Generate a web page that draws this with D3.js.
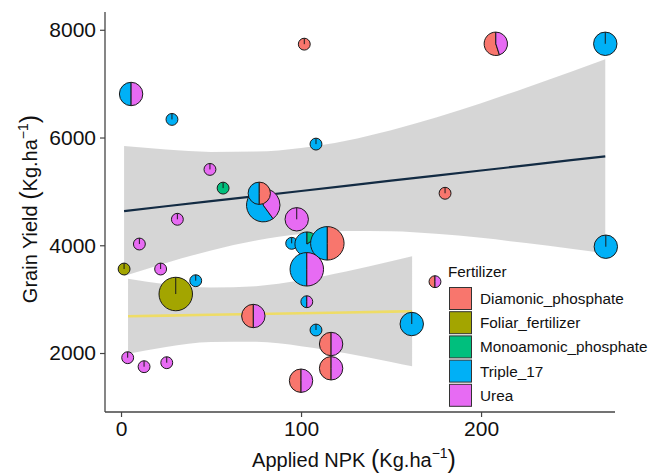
<!DOCTYPE html>
<html>
<head>
<meta charset="utf-8">
<script src="https://cdn.jsdelivr.net/npm/d3@7"></script>
<style>
  body { margin: 0; background: #fff; }
  text { font-family: "Liberation Sans", Arial, sans-serif; }
</style>
</head>
<body>
<svg id="chart" width="650" height="474"></svg>
<script>
// fertilizer categories and ggplot hue colours
const fertilizers = ["Diamonic_phosphate", "Foliar_fertilizer", "Monoamonic_phosphate", "Triple_17", "Urea"];
const fertColors = ["#F8766D", "#A3A500", "#00BF7D", "#00B0F6", "#E76BF3"];

// pies: applied NPK, grain yield, pie radius (x units), composition
const npk = [5.6, 28.3, 101.8, 208.2, 269.0, 108.3, 49.4, 56.7, 79.0, 76.8,
             97.6, 94.8, 103.3, 114.6, 103.2, 103.2, 73.5, 108.3, 116.7, 116.7,
             100.0, 161.5, 180.0, 174.4, 269.3, 10.2, 1.7, 22.0, 30.4, 41.5,
             3.7, 12.8, 25.4, 31.3];
const grainYield = [6808, 6336, 7733, 7740, 7740, 5878, 5408, 5061, 4745, 4965,
                    4482, 4036, 4023, 4036, 3554, 2952, 2687, 2427, 2167, 1716,
                    1486, 2538, 4965, 3324, 3973, 4023, 3559, 3559, 3095, 3342,
                    1913, 1746, 1820, 4482];
const pieRadius = [6.5, 3.3, 3.3, 6.5, 6.5, 3.3, 3.3, 3.3, 9.3, 6.2,
                   6.5, 3.3, 6.7, 9.3, 9.3, 3.3, 6.5, 3.3, 6.5, 6.5,
                   6.5, 6.5, 3.3, 3.3, 6.5, 3.3, 3.3, 3.3, 9.3, 3.3,
                   3.3, 3.3, 3.3, 3.3];
const pieMix = [
  [["Triple_17", 0.5], ["Urea", 0.5]],
  [["Triple_17", 1]],
  [["Diamonic_phosphate", 1]],
  [["Diamonic_phosphate", 0.55], ["Urea", 0.45]],
  [["Triple_17", 1]],
  [["Triple_17", 1]],
  [["Urea", 1]],
  [["Monoamonic_phosphate", 1]],
  [["Triple_17", 0.6], ["Urea", 0.4]],
  [["Triple_17", 0.5], ["Diamonic_phosphate", 0.5]],
  [["Urea", 1]],
  [["Triple_17", 1]],
  [["Triple_17", 0.85], ["Monoamonic_phosphate", 0.15]],
  [["Triple_17", 0.5], ["Diamonic_phosphate", 0.5]],
  [["Triple_17", 0.5], ["Urea", 0.5]],
  [["Triple_17", 0.5], ["Urea", 0.5]],
  [["Diamonic_phosphate", 0.5], ["Urea", 0.5]],
  [["Triple_17", 1]],
  [["Diamonic_phosphate", 0.5], ["Urea", 0.5]],
  [["Diamonic_phosphate", 0.5], ["Urea", 0.5]],
  [["Diamonic_phosphate", 0.5], ["Urea", 0.5]],
  [["Triple_17", 1]],
  [["Diamonic_phosphate", 1]],
  [["Diamonic_phosphate", 0.5], ["Urea", 0.5]],
  [["Triple_17", 1]],
  [["Urea", 1]],
  [["Foliar_fertilizer", 1]],
  [["Urea", 1]],
  [["Foliar_fertilizer", 1]],
  [["Triple_17", 1]],
  [["Urea", 1]],
  [["Urea", 1]],
  [["Urea", 1]],
  [["Urea", 1]]
];

// smooth fit (upper group)
const fitAX = [1.7, 25, 50, 75, 100, 125, 150, 175, 200, 225, 250, 269];
const fitA = [4635, 4724, 4818, 4913, 5007, 5102, 5199, 5293, 5388, 5482, 5579, 5651];
const fitALow = [3429, 3672, 3903, 4087, 4209, 4263, 4262, 4213, 4138, 4040, 3937, 3850];
const fitAHigh = [5841, 5776, 5733, 5739, 5805, 5941, 6136, 6373, 6638, 6924, 7221, 7452];

// smooth fit (lower group)
const fitBX = [3.9, 25, 50, 75, 100, 125, 150, 161.7];
const fitB = [2681, 2694, 2709, 2724, 2738, 2753, 2768, 2774];
const fitBLow = [1985, 2111, 2203, 2207, 2127, 1995, 1835, 1754];
const fitBHigh = [3377, 3277, 3215, 3241, 3349, 3511, 3701, 3794];

const xTicks = [0, 100, 200];
const yTicks = [2000, 4000, 6000, 8000];

const svg = d3.select("#chart");
const panelLeft = 105, panelRight = 615, panelTop = 12, panelBottom = 412;

const x = d3.scaleLinear().domain([-8.9, 274.4]).range([panelLeft, panelRight]);
const y = d3.scaleLinear().domain([905, 8330]).range([panelBottom, panelTop]);
const color = d3.scaleOrdinal().domain(fertilizers).range(fertColors);

// ribbons
function drawSmooth(xs, fit, lo, hi, lineColor, lineWidth) {
  const pts = xs.map((v, i) => ({x: v, f: fit[i], lo: lo[i], hi: hi[i]}));
  svg.append("path")
    .datum(pts)
    .attr("fill", "#999999")
    .attr("fill-opacity", 0.4)
    .attr("d", d3.area().curve(d3.curveMonotoneX)
      .x(d => x(d.x)).y0(d => y(d.lo)).y1(d => y(d.hi)));
  svg.append("path")
    .datum(pts)
    .attr("fill", "none")
    .attr("stroke", lineColor)
    .attr("stroke-width", lineWidth)
    .attr("d", d3.line().x(d => x(d.x)).y(d => y(d.f)));
}
drawSmooth(fitAX, fitA, fitALow, fitAHigh, "#132B43", 2.2);
drawSmooth(fitBX, fitB, fitBLow, fitBHigh, "#EEDC66", 2.6);

// pies
const pie = d3.pie().sort(null).value(d => d[1]).startAngle(0).endAngle(-2 * Math.PI);
npk.forEach((v, i) => {
  const r = x(pieRadius[i]) - x(0);
  const g = svg.append("g").attr("transform", `translate(${x(v)},${y(grainYield[i])})`);
  const arc = d3.arc().innerRadius(0).outerRadius(r);
  g.selectAll("path")
    .data(pie(pieMix[i]))
    .enter()
    .append("path")
    .attr("d", arc)
    .attr("fill", d => color(d.data[0]))
    .attr("stroke", "#1a1a1a")
    .attr("stroke-width", 1);
  if (pieMix[i].length === 1) {
    g.append("line")
      .attr("x1", 0).attr("y1", 0).attr("x2", 0).attr("y2", -r)
      .attr("stroke", "#1a1a1a").attr("stroke-width", 1);
  }
});

// axes
const xAxis = svg.append("g")
  .attr("transform", `translate(0,${panelBottom})`)
  .call(d3.axisBottom(x).tickValues(xTicks).tickSize(5).tickPadding(4));
const yAxis = svg.append("g")
  .attr("transform", `translate(${panelLeft},0)`)
  .call(d3.axisLeft(y).tickValues(yTicks).tickSize(5).tickPadding(4).tickFormat(d3.format("d")));
[xAxis, yAxis].forEach(a => {
  a.select(".domain").attr("stroke", "#444").attr("stroke-width", 1.3);
  a.selectAll(".tick line").attr("stroke", "#444").attr("stroke-width", 1.2);
  a.selectAll(".tick text").attr("font-size", 21).attr("fill", "#111")
    .attr("font-family", '"Liberation Sans", Arial, sans-serif');
});
xAxis.select(".domain").attr("d", `M${panelLeft},0H${panelRight}`);
yAxis.select(".domain").attr("d", `M0,${panelBottom}V${panelTop}`);

// axis titles
function unitTitle(sel, label) {
  sel.append("tspan").text(label);
  sel.append("tspan").attr("font-size", 25).attr("dy", 1).text("(");
  sel.append("tspan").attr("font-size", 20).attr("dy", -1).text("Kg.ha");
  sel.append("tspan").attr("font-size", 14).attr("dy", -9).text("\u22121");
  sel.append("tspan").attr("font-size", 25).attr("dy", 10).text(")");
}
const xTitle = svg.append("text")
  .attr("x", 354).attr("y", 467)
  .attr("text-anchor", "middle")
  .attr("font-size", 20).attr("fill", "#111");
unitTitle(xTitle, "Applied NPK ");

const yTitle = svg.append("text")
  .attr("transform", "translate(37,209) rotate(-90)")
  .attr("text-anchor", "middle")
  .attr("font-size", 20).attr("fill", "#111");
unitTitle(yTitle, "Grain Yield ");

// legend
const legend = svg.append("g").attr("transform", "translate(448,0)");
legend.append("text")
  .attr("x", 0).attr("y", 277)
  .attr("font-size", 15.3).attr("fill", "#111")
  .text("Fertilizer");
fertilizers.forEach((f, i) => {
  const ky = 287 + i * 24.2;
  legend.append("rect")
    .attr("x", 1.5).attr("y", ky + 0.5)
    .attr("width", 22).attr("height", 22)
    .attr("fill", fertColors[i])
    .attr("stroke", "#333").attr("stroke-width", 1);
  legend.append("text")
    .attr("x", 32).attr("y", ky + 17)
    .attr("font-size", 15.3).attr("fill", "#111")
    .text(f);
});
</script>
</body>
</html>
